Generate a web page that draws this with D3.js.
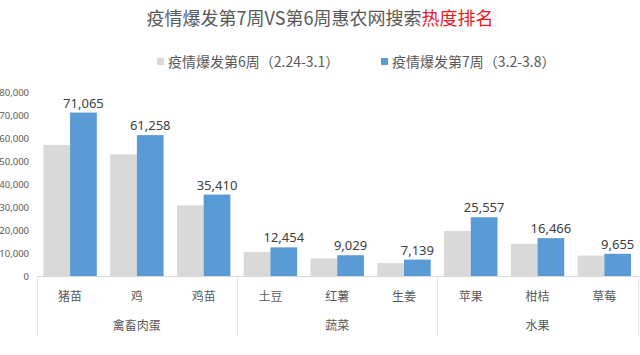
<!DOCTYPE html>
<html>
<head>
<meta charset="utf-8">
<script src="https://cdn.jsdelivr.net/npm/d3@7"></script>
<style>
html,body{margin:0;padding:0;background:#fff;}
svg{display:block;font-family:"Noto Sans CJK SC","Microsoft YaHei",sans-serif;}
</style>
</head>
<body>
<svg id="chart" width="640" height="355"></svg>
<script>
const categories = ["猪苗","鸡","鸡苗","土豆","红薯","生姜","苹果","柑桔","草莓"];
const groups = [
  {name:"禽畜肉蛋", items:["猪苗","鸡","鸡苗"]},
  {name:"蔬菜", items:["土豆","红薯","生姜"]},
  {name:"水果", items:["苹果","柑桔","草莓"]}
];
const seriesNames = ["疫情爆发第6周（2.24-3.1）","疫情爆发第7周（3.2-3.8）"];
const week6 = [57000, 52900, 30700, 10400, 7600, 5600, 19600, 14000, 8900];
const week7 = [71065, 61258, 35410, 12454, 9029, 7139, 25557, 16466, 9655];
const yTicks = [0,10000,20000,30000,40000,50000,60000,70000,80000];
const colors = ["#d9d9d9","#5b9bd5"];

const svg = d3.select("#chart");
const x = d3.scaleBand().domain(categories).range([36.7, 637.7]).padding(0);
const xi = d3.scaleBand().domain([0,1]).range([0, x.bandwidth()]).paddingInner(0).paddingOuter(0.25);
const y = d3.scaleLinear().domain([0,80000]).range([276,92]);
const fmt = d3.format(",");

// title
const title = svg.append("text").attr("x",320).attr("y",25).attr("text-anchor","middle")
  .attr("font-size",18).attr("fill","#595959");
title.append("tspan").text("疫情爆发第7周VS第6周惠农网搜索");
title.append("tspan").attr("fill","#e8191f").text("热度排名");

// legend
const legX = [157, 381];
seriesNames.forEach((n,i)=>{
  const g = svg.append("g").attr("transform",`translate(${legX[i]},62)`);
  g.append("rect").attr("x",0).attr("y",-4).attr("width",7).attr("height",7).attr("fill",colors[i]);
  g.append("text").attr("x",11).attr("y",5).attr("font-size",14).attr("fill","#595959").text(n);
});

// y axis labels
const yAxis = d3.axisLeft(y).tickValues(yTicks).tickFormat(fmt).tickSize(0).tickPadding(0);
const ya = svg.append("g").attr("transform","translate(29,0)").call(yAxis);
ya.select(".domain").remove();
ya.selectAll("text").attr("font-size",9.5).attr("fill","#595959")
  .attr("font-family","'Noto Sans','Microsoft YaHei',sans-serif");

// bars
const data = categories.map((c,i)=>({c, v:[week6[i], week7[i]]}));
const cg = svg.append("g").selectAll("g").data(data).join("g")
  .attr("transform", d=>`translate(${x(d.c)},0)`);
cg.selectAll("rect").data(d=>d.v.map((v,k)=>({k,v}))).join("rect")
  .attr("x", d=>xi(d.k)).attr("width", xi.bandwidth())
  .attr("y", d=>y(d.v)).attr("height", d=>y(0)-y(d.v))
  .attr("fill", d=>colors[d.k]);
cg.append("text")
  .attr("x", xi(1)+xi.bandwidth()/2).attr("y", d=>y(d.v[1])-5)
  .attr("text-anchor","middle").attr("font-size",13).attr("fill","#404040")
  .attr("font-family","'Noto Sans','Microsoft YaHei',sans-serif")
  .text(d=>fmt(d.v[1]));

// x axis line
const xr = x.range();
svg.append("line").attr("x1",xr[0]).attr("x2",xr[1]).attr("y1",276.5).attr("y2",276.5)
  .attr("stroke","#d9d9d9").attr("stroke-width",1);

// category labels
svg.append("g").selectAll("text").data(categories).join("text")
  .attr("x", d=>x(d)+x.bandwidth()/2).attr("y",301)
  .attr("text-anchor","middle").attr("font-size",12).attr("fill","#595959").text(d=>d);

// group separators & labels
const bounds = [x(groups[0].items[0])];
groups.forEach(g=>{ const last = g.items[g.items.length-1]; bounds.push(x(last)+x.bandwidth()); });
svg.append("g").selectAll("line").data(bounds).join("line")
  .attr("x1",d=>Math.round(d)+0.5).attr("x2",d=>Math.round(d)+0.5)
  .attr("y1",276).attr("y2",336).attr("stroke","#e6e6e6").attr("stroke-width",1);
svg.append("g").selectAll("text").data(groups).join("text")
  .attr("x", g=>(x(g.items[0]) + x(g.items[g.items.length-1]) + x.bandwidth())/2)
  .attr("y",330).attr("text-anchor","middle").attr("font-size",12).attr("fill","#595959")
  .text(g=>g.name);
</script>
</body>
</html>
